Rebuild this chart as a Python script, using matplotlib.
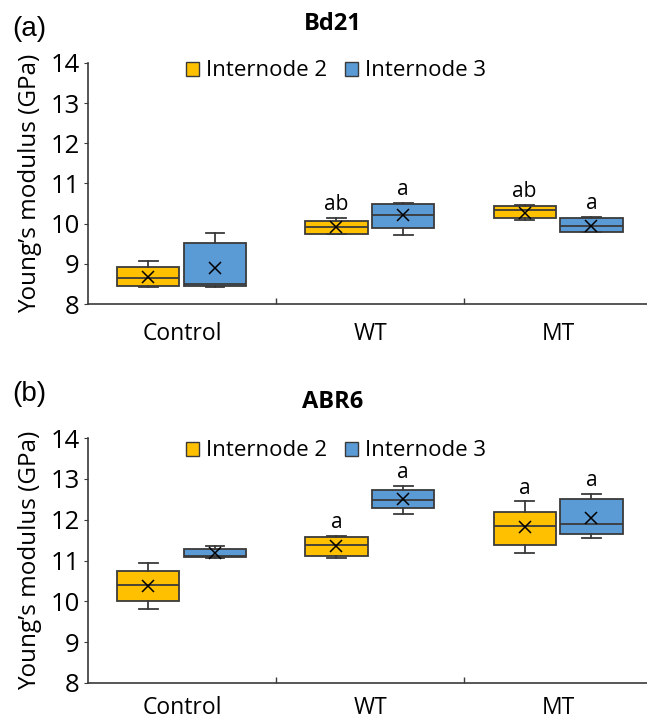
import numpy as np
import matplotlib.pyplot as plt
from matplotlib.patches import Patch

plt.rcParams['font.family'] = ['Open Sans', 'DejaVu Sans']

groups = ['Control', 'WT', 'MT']
series = ['Internode 2', 'Internode 3']
colors = ['#FFC000', '#5B9BD5']

# five-number summaries + mean, per panel / group / series
# (whislo, q1, med, q3, whishi, mean)
bd21 = {
    'Internode 2': [(8.42, 8.44, 8.65, 8.91, 9.08, 8.67),
                    (9.74, 9.74, 9.91, 10.07, 10.15, 9.91),
                    (10.09, 10.15, 10.33, 10.43, 10.47, 10.26)],
    'Internode 3': [(8.42, 8.46, 8.50, 9.51, 9.78, 8.89),
                    (9.72, 9.90, 10.21, 10.48, 10.52, 10.21),
                    (9.79, 9.80, 9.95, 10.13, 10.16, 9.95)],
}
abr6 = {
    'Internode 2': [(9.82, 10.02, 10.39, 10.74, 10.93, 10.38),
                    (11.06, 11.12, 11.38, 11.57, 11.61, 11.35),
                    (11.19, 11.38, 11.84, 12.20, 12.45, 11.81)],
    'Internode 3': [(11.07, 11.09, 11.11, 11.27, 11.35, 11.19),
                    (12.14, 12.29, 12.49, 12.72, 12.82, 12.50),
                    (11.54, 11.65, 11.90, 12.51, 12.64, 12.04)],
}
bd21_letters = {'Internode 2': ['', 'ab', 'ab'], 'Internode 3': ['', 'a', 'a']}
abr6_letters = {'Internode 2': ['', 'a', 'a'], 'Internode 3': ['', 'a', 'a']}

fig = plt.figure(figsize=(6.47, 7.22), dpi=100)
W, H = 647, 722
EDGE = '#3a3a3a'


def draw_panel(rect, data, letters, title, tag, title_y, tag_y, leg_y, xpad):
    ax = fig.add_axes(rect)
    offsets = [-0.18, 0.175]
    for s, off, col in zip(series, offsets, colors):
        stats = []
        for lo, q1, med, q3, hi, mean in data[s]:
            stats.append(dict(whislo=lo, q1=q1, med=med, q3=q3, whishi=hi,
                              mean=mean, fliers=[]))
        pos = np.arange(len(groups)) + off
        ax.bxp(stats, positions=pos, widths=0.33, capwidths=0.1,
               showmeans=True, patch_artist=True,
               boxprops=dict(facecolor=col, edgecolor=EDGE, linewidth=1.3),
               medianprops=dict(color=EDGE, linewidth=1.3),
               whiskerprops=dict(color=EDGE, linewidth=1.3),
               capprops=dict(color=EDGE, linewidth=1.3),
               meanprops=dict(marker='x', markeredgecolor='black',
                              markersize=8, markeredgewidth=1.1))
        for p, st, lab in zip(pos, data[s], letters[s]):
            if lab:
                ax.annotate(lab, (p, st[4]), xytext=(0, 2),
                            textcoords='offset points', ha='center',
                            va='bottom', fontsize=15)
    ax.set_ylim(8, 14)
    ax.set_yticks(range(8, 15))
    ax.set_xlim(-0.5, 2.47)
    ax.set_xticks(range(3))
    ax.set_xticklabels(groups, fontsize=16.5)
    ax.set_xticks([0.5, 1.5], minor=True)
    ax.tick_params(axis='x', which='major', length=0, pad=xpad)
    ax.tick_params(axis='x', which='minor', direction='in', length=4,
                   width=1, color=EDGE)
    ax.tick_params(axis='y', labelsize=18.5, length=3, pad=3, color=EDGE)
    for sp in ['top', 'right']:
        ax.spines[sp].set_visible(False)
    for sp in ['left', 'bottom']:
        ax.spines[sp].set_color(EDGE)
        ax.spines[sp].set_linewidth(1.2)
    ax.set_ylabel('Young\u2019s modulus (GPa)', fontsize=17.5)
    ax.yaxis.set_label_coords(-0.082, 0.5)

    handles = [Patch(facecolor=c, edgecolor=EDGE, label=s)
               for s, c in zip(series, colors)]
    fig.legend(handles=handles, loc='center', ncol=2,
               bbox_to_anchor=(336 / W, 1 - leg_y / H), frameon=False,
               fontsize=16, handlelength=0.6, handleheight=0.6,
               handletextpad=0.3, columnspacing=0.8, borderpad=0)
    fig.text(333 / W, 1 - title_y / H, title, ha='center', va='center',
             fontsize=17, fontweight='bold')
    fig.text(12 / W, 1 - tag_y / H, tag, ha='left', va='center',
             fontsize=20, family='Liberation Sans')
    return ax


draw_panel([88 / W, 1 - 304 / H, (W - 88) / W, 241 / H], bd21, bd21_letters,
           'Bd21', '(a)', 24, 29, 71, 13)
draw_panel([88 / W, 1 - 683 / H, (W - 88) / W, 245 / H], abr6, abr6_letters,
           'ABR6', '(b)', 402, 394, 451, 9)

fig.savefig('out.png', dpi=100)
